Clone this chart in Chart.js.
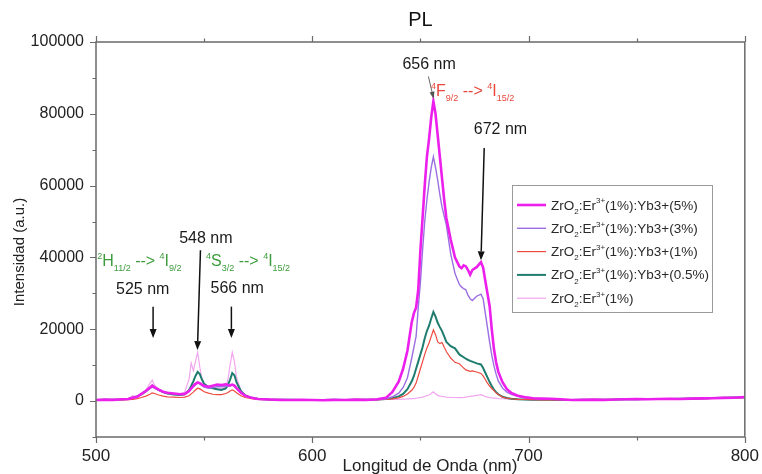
<!DOCTYPE html>
<html>
<head>
<meta charset="utf-8">
<script src="https://cdn.jsdelivr.net/npm/chart.js@4"></script>
<style>
  html, body { margin: 0; padding: 0; background: #fff; }
  canvas { display: block; }
</style>
</head>
<body>
<canvas id="pl" width="762" height="474"></canvas>
<script>
// Emission wavelengths (nm), shared by every spectrum
const wavelength = [
  500, 504, 508, 512, 515, 517, 519, 521, 523, 525,
  526, 527, 529, 531, 533, 536, 539, 541, 543, 544,
  545, 546, 547, 548, 549, 550, 552, 554, 556, 558,
  560, 561, 562, 563, 564, 565, 567, 569, 572, 575,
  580, 585, 590, 595, 600, 605, 610, 615, 620, 625,
  630, 634, 637, 640, 642, 644, 646, 647, 648, 649,
  650, 651, 652, 653, 654, 655, 656, 657, 658, 659,
  660, 661, 662, 664, 666, 668, 669, 670, 671, 672,
  673, 674, 676, 678, 679, 680, 681, 682, 683, 684,
  685, 686, 688, 690, 692, 695, 698, 702, 706, 710,
  715, 720, 725, 730, 735, 740, 745, 750, 755, 760,
  765, 770, 775, 780, 785, 790, 795, 800
];

// ZrO2:Er3+(1%):Yb3+(5%)
const yb5 = [
  300, 400, 350, 500, 600, 900, 1200, 2000, 2800, 3800,
  4300, 3900, 3200, 2600, 2300, 2100, 1900, 2000, 2800, 3500,
  4200, 4800, 5200, 5000, 4600, 4300, 4000, 4300, 4600, 4500,
  4700, 4500, 4400, 4600, 4300, 3600, 2400, 1500, 900, 600,
  450, 350, 300, 350, 300, 250, 350, 300, 400, 350,
  500, 900, 2500, 5500, 9000, 14000, 22000, 24500, 26000, 31000,
  42000, 51000, 60000, 68000, 73000, 79000, 83500, 80000, 74000, 68000,
  62000, 56000, 51000, 45000, 40000, 37500, 37000, 37800, 37500, 36500,
  35200, 36500, 37300, 38700, 37200, 33500, 30000, 26500, 20000, 14500,
  10800, 8200, 5200, 3300, 2300, 1500, 1100, 800, 700, 650,
  500, 300, 350, 400, 350, 450, 500, 550, 500, 600,
  650, 600, 700, 750, 800, 900, 950, 1100
];

// ZrO2:Er3+(1%):Yb3+(3%)
const yb3 = [
  300, 400, 400, 500, 700, 1100, 1400, 2000, 2700, 3500,
  3900, 3600, 3000, 2500, 2200, 2000, 1800, 1900, 2600, 3400,
  4000, 4600, 5000, 4800, 4300, 3900, 3600, 3800, 4000, 4000,
  4200, 4100, 4200, 4500, 4100, 3400, 2200, 1400, 850, 600,
  450, 400, 300, 300, 350, 300, 300, 350, 350, 400,
  450, 600, 1200, 2200, 3800, 6500, 12000, 15000, 18000, 26000,
  33000, 42000, 50000, 56000, 61000, 65000, 68000, 65000, 61500, 57500,
  54000, 51500, 49000, 41000, 35500, 32500, 31800, 31300, 31000, 29500,
  28500, 28000, 29200, 29800, 28500, 24500, 20500, 16500, 12800, 9800,
  7500, 5600, 3600, 2500, 1900, 1300, 1000, 800, 650, 550,
  450, 250, 300, 350, 400, 400, 500, 450, 550, 600,
  600, 650, 700, 700, 800, 850, 1000, 1100
];

// ZrO2:Er3+(1%):Yb3+(1%)
const yb1 = [
  300, 350, 300, 350, 400, 500, 700, 1000, 1400, 1900,
  2300, 2100, 1700, 1400, 1200, 1100, 1000, 1100, 1500, 2000,
  2500, 3100, 3600, 3400, 3000, 2600, 2200, 1900, 1800, 1800,
  2100, 2400, 2800, 3100, 2800, 2300, 1500, 1000, 700, 500,
  400, 350, 300, 300, 300, 250, 300, 300, 350, 350,
  400, 450, 600, 900, 1300, 2000, 3000, 3800, 5000, 7000,
  9000, 11000, 13000, 14800, 16200, 18000, 19800, 18500, 16500, 16000,
  16300, 15000, 13800, 12000, 10800, 10400, 9800, 9200, 8700, 8500,
  8300, 8400, 8100, 7700, 7000, 6000, 5000, 4200, 3500, 2900,
  2300, 1800, 1100, 800, 650, 500, 450, 400, 350, 400,
  350, 300, 350, 400, 350, 450, 450, 500, 500, 550,
  600, 600, 650, 700, 750, 800, 900, 1000
];

// ZrO2:Er3+(1%):Yb3+(0.5%)
const yb05 = [
  300, 350, 350, 450, 600, 900, 1300, 1900, 2700, 3700,
  4300, 3800, 3100, 2500, 2100, 1800, 1700, 1900, 3000, 4200,
  5500, 7000, 8100, 7500, 6000, 4800, 3900, 3600, 3300, 3100,
  3500, 4500, 6000, 7800, 7200, 5200, 2800, 1600, 900, 600,
  450, 400, 350, 300, 300, 300, 350, 300, 350, 400,
  450, 550, 800, 1300, 2000, 3300, 5500, 7000, 9000, 11000,
  13000, 15000, 17500, 19500, 21000, 23000, 24800, 23500, 21800, 20600,
  19500, 18000, 16500, 15300, 14700, 13000, 12600, 12200, 11800, 11500,
  11200, 11000, 10500, 10200, 9200, 7900, 6600, 5300, 4200, 3200,
  2500, 1900, 1200, 850, 650, 500, 450, 400, 400, 350,
  300, 300, 350, 400, 400, 450, 500, 500, 550, 600,
  600, 650, 700, 750, 850, 900, 1000, 1100
];

// ZrO2:Er3+(1%)
const er1 = [
  300, 400, 400, 500, 800, 1500, 1200, 1900, 3000, 5000,
  5800, 4500, 3000, 2400, 2100, 1900, 2000, 2500, 6000, 10600,
  8500, 11000, 13600, 9500, 6000, 4500, 3800, 3600, 3500, 3400,
  4000, 6000, 10000, 13600, 11000, 6500, 3000, 1500, 800, 600,
  450, 400, 350, 350, 300, 300, 350, 350, 350, 400,
  400, 450, 500, 500, 550, 600, 700, 700, 800, 900,
  1000, 1100, 1300, 1500, 1700, 2100, 2600, 2000, 1600, 1400,
  1300, 1200, 1100, 1000, 1000, 950, 950, 1000, 1100, 1200,
  1300, 1400, 1600, 1800, 1600, 1300, 1100, 1000, 900, 850,
  800, 700, 650, 600, 550, 500, 450, 400, 400, 350,
  350, 300, 350, 400, 400, 450, 450, 500, 500, 550,
  600, 600, 650, 700, 750, 800, 900, 1000
];

// Axis ticks
const xTicks = [500, 600, 700, 800];
const xMinorTicks = [550, 650, 750];
const yTicks = [0, 20000, 40000, 60000, 80000, 100000];
const yMinorTicks = [-10000, 10000, 30000, 50000, 70000, 90000];

const FAM = "'Liberation Sans', Arial, Helvetica, sans-serif";

// Series legend text, split into [text, 'sub'|'sup'|''] runs
const seriesInfo = [
  { data: yb5,  color: '#ec1fec', width: 2.6, label: [['ZrO',''],['2','sub'],[':Er',''],['3+','sup'],['(1%):Yb3+(5%)','']] },
  { data: yb3,  color: '#9a6ee0', width: 1.4, label: [['ZrO',''],['2','sub'],[':Er',''],['3+','sup'],['(1%):Yb3+(3%)','']] },
  { data: yb1,  color: '#ee4b40', width: 1.2, label: [['ZrO',''],['2','sub'],[':Er',''],['3+','sup'],['(1%):Yb3+(1%)','']] },
  { data: yb05, color: '#1f7d6f', width: 2.0, label: [['ZrO',''],['2','sub'],[':Er',''],['3+','sup'],['(1%):Yb3+(0.5%)','']] },
  { data: er1,  color: '#f2a6ef', width: 1.2, label: [['ZrO',''],['2','sub'],[':Er',''],['3+','sup'],['(1%)','']] }
];

// Peak call-outs (data coordinates)
const peakNotes = [
  { text: '525 nm', at: [521.6, 31000], from: [526.4, 26300], to: [526.4, 17600] },
  { text: '548 nm', at: [550.8, 45200], from: [548.3, 42000], to: [546.9, 14200] },
  { text: '566 nm', at: [565.3, 31400], from: [562.6, 26300], to: [562.6, 17600] },
  { text: '656 nm', at: [654.0, 93800], from: [653.7, 90400], to: [656.1, 84200], thin: true },
  { text: '672 nm', at: [687.0, 75500], from: [679.5, 70500], to: [678.0, 39200] }
];

// Transition labels: [x, baseline y] in data coordinates
const transitions = [
  { at: [500.6, 37600], color: '#3c9c3c', parts: [['2','sup'],['H',''],['11/2','sub'],[' --> ',''],['4','sup'],['I',''],['9/2','sub']] },
  { at: [550.9, 37600], color: '#3c9c3c', parts: [['4','sup'],['S',''],['3/2','sub'],[' --> ',''],['4','sup'],['I',''],['15/2','sub']] },
  { at: [654.9, 85000], color: '#e8473c', parts: [['4','sup'],['F',''],['9/2','sub'],[' --> ',''],['4','sup'],['I',''],['15/2','sub']] }
];

function richText(ctx, x, yb, parts, size, color) {
  const small = Math.round(size * 0.58);
  ctx.fillStyle = color;
  ctx.textAlign = 'left';
  ctx.textBaseline = 'alphabetic';
  let cx = x;
  for (const [t, k] of parts) {
    ctx.font = (k ? small : size) + 'px ' + FAM;
    const dy = k === 'sup' ? -size * 0.45 : (k === 'sub' ? size * 0.32 : 0);
    ctx.fillText(t, cx, yb + dy);
    cx += ctx.measureText(t).width;
  }
  return cx - x;
}

function arrow(ctx, x1, y1, x2, y2, color, lw, head, hw) {
  const ang = Math.atan2(y2 - y1, x2 - x1);
  const bx = x2 - head * Math.cos(ang), by = y2 - head * Math.sin(ang);
  ctx.strokeStyle = color; ctx.fillStyle = color; ctx.lineWidth = lw;
  ctx.beginPath(); ctx.moveTo(x1, y1); ctx.lineTo(bx, by); ctx.stroke();
  ctx.beginPath();
  ctx.moveTo(x2, y2);
  ctx.lineTo(bx + hw * Math.sin(ang), by - hw * Math.cos(ang));
  ctx.lineTo(bx - hw * Math.sin(ang), by + hw * Math.cos(ang));
  ctx.closePath(); ctx.fill();
}

const decor = {
  id: 'decor',
  afterDraw(chart) {
    const { ctx, chartArea: a, scales: { x, y } } = chart;
    ctx.save();

    // frame
    ctx.strokeStyle = '#6a6a6a';
    ctx.lineWidth = 1.5;
    ctx.strokeRect(a.left, a.top, a.right - a.left, a.bottom - a.top);

    // tick marks, outward on bottom, top and left
    ctx.lineWidth = 1.2;
    ctx.beginPath();
    const xt = (v, len) => {
      const px = Math.round(x.getPixelForValue(v)) + 0.5;
      ctx.moveTo(px, a.bottom); ctx.lineTo(px, a.bottom + len);
      ctx.moveTo(px, a.top); ctx.lineTo(px, a.top - len);
    };
    xTicks.forEach(v => xt(v, 6));
    xMinorTicks.forEach(v => xt(v, 3.5));
    const yt = (v, len) => {
      const py = Math.round(y.getPixelForValue(v)) + 0.5;
      ctx.moveTo(a.left, py); ctx.lineTo(a.left - len, py);
    };
    yTicks.forEach(v => yt(v, 6));
    yMinorTicks.forEach(v => yt(v, 3.5));
    ctx.stroke();

    // title and axis titles
    ctx.fillStyle = '#111';
    ctx.textAlign = 'center';
    ctx.textBaseline = 'middle';
    ctx.font = '20px ' + FAM;
    ctx.fillText('PL', (a.left + a.right) / 2, 20);
    ctx.fillStyle = '#222';
    ctx.font = '17px ' + FAM;
    ctx.fillText('Longitud de Onda (nm)', 430, 466);
    ctx.save();
    ctx.translate(20, 252);
    ctx.rotate(-Math.PI / 2);
    ctx.font = '15px ' + FAM;
    ctx.fillText('Intensidad (a.u.)', 0, 0);
    ctx.restore();

    // peak call-outs
    for (const n of peakNotes) {
      ctx.fillStyle = '#1a1a1a';
      ctx.font = '16px ' + FAM;
      ctx.textAlign = 'center';
      ctx.textBaseline = 'middle';
      ctx.fillText(n.text, x.getPixelForValue(n.at[0]), y.getPixelForValue(n.at[1]));
      const x1 = x.getPixelForValue(n.from[0]), y1 = y.getPixelForValue(n.from[1]);
      const x2 = x.getPixelForValue(n.to[0]), y2 = y.getPixelForValue(n.to[1]);
      if (n.thin) arrow(ctx, x1, y1, x2, y2, '#555', 0.9, 7, 2.5);
      else arrow(ctx, x1, y1, x2, y2, '#111', 1.5, 9, 3.5);
    }

    // transition labels
    for (const t of transitions) {
      richText(ctx, x.getPixelForValue(t.at[0]), y.getPixelForValue(t.at[1]), t.parts, 16, t.color);
    }

    // legend box
    const lx = 512, ly = 185, lw = 200, lh = 127;
    ctx.fillStyle = '#fff';
    ctx.fillRect(lx, ly, lw, lh);
    ctx.strokeStyle = '#9a9a9a';
    ctx.lineWidth = 1;
    ctx.strokeRect(lx + 0.5, ly + 0.5, lw, lh);
    seriesInfo.forEach((s, i) => {
      const cy = 205 + i * 23.3;
      ctx.strokeStyle = s.color;
      ctx.lineWidth = s.width;
      ctx.beginPath(); ctx.moveTo(517, cy); ctx.lineTo(546, cy); ctx.stroke();
      richText(ctx, 551, cy + 4.5, s.label, 13.5, '#2a2a2a');
    });

    ctx.restore();
  }
};

new Chart(document.getElementById('pl'), {
  type: 'line',
  data: {
    datasets: seriesInfo.map(s => ({
      data: wavelength.map((w, i) => ({ x: w, y: s.data[i] })),
      borderColor: s.color,
      borderWidth: s.width,
      pointRadius: 0,
      tension: 0,
      fill: false
    }))
  },
  options: {
    responsive: false,
    animation: false,
    devicePixelRatio: 1,
    layout: { padding: { top: 42, right: 16, left: 0, bottom: 0 } },
    plugins: { legend: { display: false }, title: { display: false }, tooltip: { enabled: false } },
    scales: {
      x: {
        type: 'linear', min: 500, max: 800,
        afterBuildTicks: s => { s.ticks = xTicks.map(v => ({ value: v })); },
        afterFit: s => { s.height = 37; },
        grid: { display: true, drawOnChartArea: false, drawTicks: true, tickLength: 6, color: 'rgba(0,0,0,0)' },
        border: { display: false },
        ticks: { color: '#222', font: { family: FAM, size: 17 }, padding: 3, maxRotation: 0, callback: v => String(v) }
      },
      y: {
        type: 'linear', min: -10000, max: 100000,
        afterBuildTicks: s => { s.ticks = yTicks.map(v => ({ value: v })); },
        afterFit: s => { s.width = 96; },
        grid: { display: true, drawOnChartArea: false, drawTicks: true, tickLength: 6, color: 'rgba(0,0,0,0)' },
        border: { display: false },
        ticks: { color: '#222', font: { family: FAM, size: 16 }, padding: 6, callback: v => String(v) }
      }
    }
  },
  plugins: [decor]
});
</script>
</body>
</html>
